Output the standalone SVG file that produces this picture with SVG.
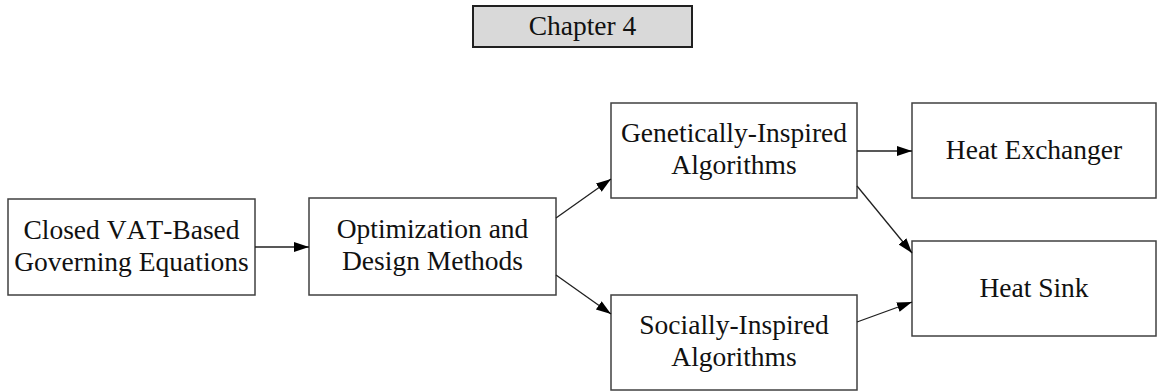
<svg xmlns="http://www.w3.org/2000/svg" width="1158" height="392" viewBox="0 0 1158 392">
<style>
.box{fill:#ffffff;stroke:#404040;stroke-width:1.5}
.chap{fill:#d9d9d9;stroke:#202020;stroke-width:2}
.t{font-family:"Liberation Serif","Times New Roman",serif;font-size:27.5px;font-kerning:none;fill:#111;text-anchor:middle}
.c{stroke:#202020;stroke-width:1.3;fill:none;marker-end:url(#ah)}
</style>
<defs>
<marker id="ah" markerUnits="userSpaceOnUse" markerWidth="16" markerHeight="12" refX="15" refY="5" orient="auto">
<path d="M0,0 L15,5 L0,10 z" fill="#000"/>
</marker>
</defs>
<rect width="1158" height="392" fill="#ffffff"/>
<g id="chapter">
<rect class="chap" x="473" y="6" width="219" height="41"/>
<text class="t" x="582.5" y="35">Chapter 4</text>
</g>
<g id="closed-vat">
<rect class="box" x="8" y="199" width="247" height="96"/>
<text class="t" x="131.5" y="239">Closed VAT-Based</text>
<text class="t" x="131.5" y="271">Governing Equations</text>
</g>
<g id="optimization">
<rect class="box" x="309" y="198" width="247" height="97"/>
<text class="t" x="432.5" y="238">Optimization and</text>
<text class="t" x="432.5" y="270">Design Methods</text>
</g>
<g id="genetic">
<rect class="box" x="611" y="103" width="246" height="95"/>
<text class="t" x="734" y="142">Genetically-Inspired</text>
<text class="t" x="734" y="174">Algorithms</text>
</g>
<g id="social">
<rect class="box" x="611" y="295" width="246" height="95"/>
<text class="t" x="734" y="334">Socially-Inspired</text>
<text class="t" x="734" y="366">Algorithms</text>
</g>
<g id="heat-exchanger">
<rect class="box" x="912" y="103" width="244" height="95"/>
<text class="t" x="1034" y="159">Heat Exchanger</text>
</g>
<g id="heat-sink">
<rect class="box" x="912" y="241" width="244" height="95"/>
<text class="t" x="1034" y="297">Heat Sink</text>
</g>
<g id="connectors">
<line class="c" x1="255" y1="247" x2="309" y2="247"/>
<line class="c" x1="556" y1="218" x2="611" y2="179"/>
<line class="c" x1="556" y1="275" x2="611" y2="314"/>
<line class="c" x1="857" y1="151" x2="912" y2="151"/>
<line class="c" x1="857" y1="186" x2="912" y2="253"/>
<line class="c" x1="857" y1="322" x2="912" y2="302"/>
</g>
</svg>
